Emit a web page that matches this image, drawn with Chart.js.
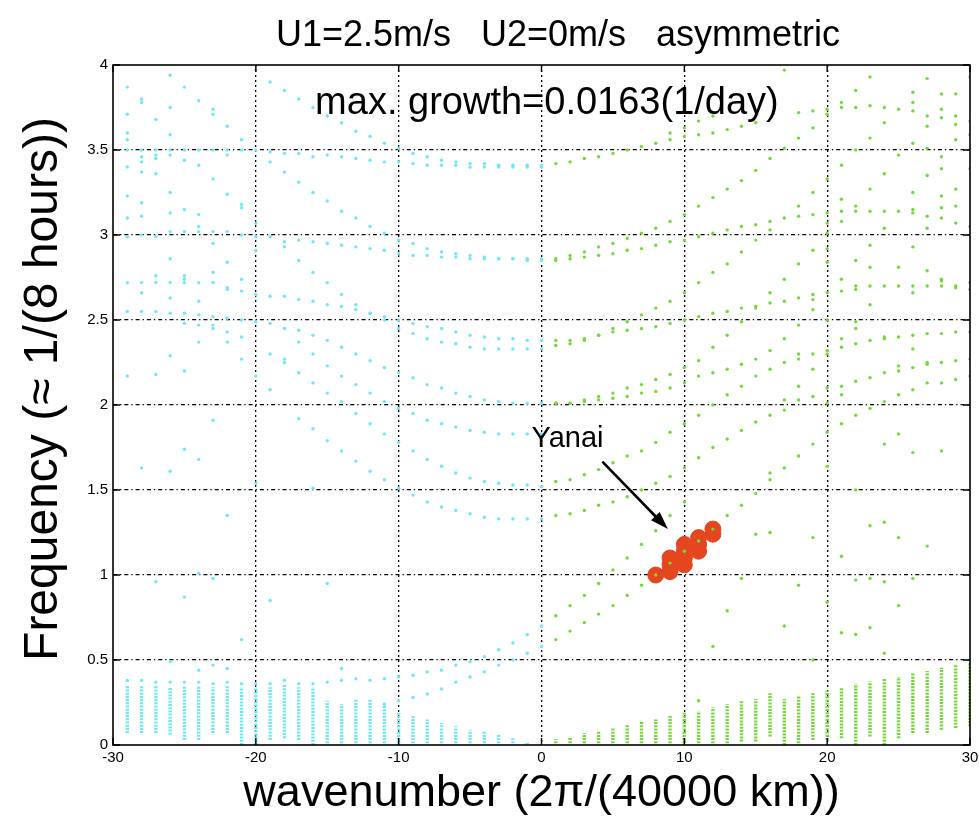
<!DOCTYPE html>
<html>
<head>
<meta charset="utf-8">
<script src="https://cdn.jsdelivr.net/npm/chart.js@4.4.0/dist/chart.umd.min.js"></script>
<style>
  html, body { margin: 0; padding: 0; background: #fff; }
  canvas { display: block; }
</style>
</head>
<body>
<canvas id="chart" width="979" height="818"></canvas>
<script>
const FONT = '"Liberation Sans", Arial, Helvetica, sans-serif';
const CYAN = '#6fe9f3';
const GREEN = '#74d93a';

// far west wavenumbers, dots read column by column
const farWestK = [-29, -28, -27, -26, -25, -24, -23, -22, -21, -20, -19, -18, -17, -16];
const farWestCols = [
  [3.87, 3.71, 3.60, 3.56, 3.50, 3.40, 3.23, 3.10, 2.99, 2.72, 2.55, 2.17, 0.38],
  [3.80, 3.78, 3.50, 3.46, 3.43, 3.37, 3.19, 3.11, 3.00, 2.72, 2.66, 2.55, 1.63, 0.38],
  [3.68, 3.50, 3.47, 3.45, 3.36, 2.99, 2.76, 2.72, 2.55, 2.18, 0.96, 0.37],
  [3.94, 3.75, 3.59, 3.50, 3.47, 3.25, 3.13, 3.02, 2.86, 2.72, 2.63, 2.54, 2.29, 1.61, 0.49, 0.37],
  [3.87, 3.50, 3.44, 3.15, 3.02, 2.76, 2.74, 2.72, 2.54, 2.48, 2.20, 1.74, 0.87, 0.37],
  [3.79, 3.50, 3.41, 3.12, 3.05, 3.02, 2.72, 2.61, 2.53, 2.47, 2.37, 1.68, 1.01, 0.44, 0.37],
  [3.74, 3.71, 3.50, 3.33, 3.02, 2.95, 2.78, 2.72, 2.52, 2.47, 2.45, 1.91, 0.98, 0.47, 0.36],
  [3.64, 3.50, 3.47, 3.24, 3.02, 2.84, 2.69, 2.68, 2.51, 2.43, 2.37, 1.35, 0.45, 0.37],
  [3.56, 3.50, 3.18, 3.16, 3.00, 2.74, 2.67, 2.50, 2.40, 2.27, 0.62, 0.36],
  [3.97, 3.50, 3.07, 2.99, 2.91, 2.65, 2.49, 2.17, 1.54, 0.36],
  [3.90, 3.49, 3.43, 2.99, 2.64, 2.48, 2.30, 2.09, 0.85, 0.36],
  [3.85, 3.48, 3.37, 2.96, 2.93, 2.64, 2.45, 2.27, 2.25, 0.38],
  [3.80, 3.48, 3.31, 2.97, 2.85, 2.62, 2.44, 2.37, 2.19, 1.92, 0.36],
  [3.75, 3.46, 3.25, 2.96, 2.78, 2.61, 2.41, 2.30, 2.13, 1.86, 1.51, 0.36]
];

// near west branches, k = -15 .. 0
const midWestK = [-15, -14, -13, -12, -11, -10, -9, -8, -7, -6, -5, -4, -3, -2, -1, 0];
const wM1 = [3.47, 3.46, 3.45, 3.44, 3.43, 3.43, 3.42, 3.41, 3.41, 3.41, 3.40, 3.40, 3.40, 3.40, 3.40, 3.40];
const wM2 = [3.70, 3.66, 3.61, 3.58, 3.54, 3.51, 3.48, 3.46, 3.44, 3.43, 3.42, 3.42, 3.41, 3.41, 3.41, 3.41];
const wM3 = [3.20, 3.14, 3.10, 3.05, 3.01, 2.97, 2.95, 2.92, 2.90, 2.89, 2.88, 2.87, 2.86, 2.86, 2.85, 2.85];
const wM4 = [2.95, 2.94, 2.93, 2.92, 2.91, 2.89, 2.88, 2.88, 2.87, 2.87, 2.86, 2.86, 2.86, 2.86, 2.86, 2.86];
const wM5 = [2.72, 2.65, 2.59, 2.54, 2.50, 2.45, 2.42, 2.39, 2.37, 2.36, 2.34, 2.33, 2.33, 2.33, 2.33, 2.33];
const wM6 = [2.59, 2.58, 2.56, 2.54, 2.52, 2.50, 2.48, 2.46, 2.45, 2.43, 2.41, 2.40, 2.39, 2.39, 2.38, 2.38];
const wM7 = [2.38, 2.34, 2.30, 2.26, 2.22, 2.19, 2.16, 2.12, 2.10, 2.07, 2.05, 2.03, 2.02, 2.01, 2.01, 2.01];
const wM8 = [2.23, 2.17, 2.12, 2.07, 2.02, 1.98, 1.95, 1.91, 1.89, 1.87, 1.85, 1.84, 1.83, 1.83, 1.83, 1.83];
const wM9 = [2.07, 2.02, 1.95, 1.89, 1.83, 1.78, 1.73, 1.68, 1.64, 1.60, 1.57, 1.55, 1.54, 1.53, 1.53, 1.52];
const wM10 = [1.79, 1.73, 1.67, 1.61, 1.56, 1.51, 1.47, 1.43, 1.40, 1.38, 1.36, 1.34, 1.33, 1.33, 1.33, 1.33];
const wM11 = [0.37, 0.38, 0.39, 0.38, 0.39, 0.40, 0.41, 0.43, 0.44, 0.47, 0.49, 0.52, 0.56, 0.60, 0.65, 0.70];
const wM12 = [null, null, null, null, 0.24, 0.26, 0.28, 0.30, 0.33, 0.37, 0.40, 0.43, 0.47, 0.50, 0.54, 0.58];
const westSparseK = [-15, -14];
const westSparseF = [0.95, 0.45];

// near east branches, k = 1 .. 15
const midEastK = [1, 2, 3, 4, 5, 6, 7, 8, 9, 10, 11, 12, 13, 14, 15];
const eM1 = [3.42, 3.43, 3.45, 3.46, 3.48, 3.50, 3.52, 3.54, 3.56, 3.58, 3.59, 3.60, 3.62, 3.64, 3.66];
const eM1b = [null, null, null, null, null, null, null, null, 3.60, 3.63, 3.67, 3.70, null, null, null];
const eM2 = [2.86, 2.88, 2.90, 2.93, 2.95, 2.98, 3.01, 3.04, 3.08, 3.12, 3.17, 3.22, 3.27, 3.32, 3.38];
const eM3 = [2.85, 2.86, 2.87, 2.88, 2.89, 2.91, 2.92, 2.94, 2.96, 2.97, 2.99, 3.01, 3.03, 3.05, 3.06];
const eM4 = [2.35, 2.36, 2.38, 2.41, 2.45, 2.49, 2.53, 2.57, 2.61, 2.66, 2.72, 2.78, 2.83, 2.90, 2.97];
const eM5 = [2.38, 2.38, 2.39, 2.41, 2.43, 2.44, 2.45, 2.46, 2.48, 2.50, 2.52, 2.54, 2.55, 2.57, 2.58];
const eM6 = [2.01, 2.01, 2.03, 2.05, 2.07, 2.10, 2.12, 2.15, 2.18, 2.22, 2.26, 2.34, 2.41, 2.49, 2.57];
const eM7 = [2.01, 2.01, 2.02, 2.03, 2.04, 2.05, 2.07, 2.08, 2.10, 2.13, 2.17, 2.19, 2.21, 2.24, 2.27];
const eM8 = [1.55, 1.56, 1.59, 1.62, 1.66, 1.70, 1.73, 1.78, 1.84, 1.89, 1.94, 2.00, 2.06, 2.11, 2.17];
const eM10 = [1.35, 1.36, 1.38, 1.41, 1.43, 1.46, 1.50, 1.54, 1.58, 1.63, 1.69, 1.75, 1.80, 1.85, 1.90];
const eM11 = [0.76, 0.82, 0.88, 0.95, 1.03, 1.10, 1.18, 1.26, 1.35, 1.43, null, null, null, null, null];
const eM12 = [0.62, 0.67, 0.72, 0.77, 0.82, 0.88, 0.94, 1.00, 1.07, 1.14, 1.20, 1.27, 1.35, 1.41, 1.48];
const eastSparseK = [11, 12, 13, 14, 15];
const eastSparseF = [0.26, 0.58, 0.79, 0.98, 1.24];

// far east wavenumbers, dots read column by column
const farEastK = [16, 17, 18, 19, 20, 21, 22, 23, 24, 25, 26, 27, 28, 29, 30];
const farEastCols = [
  [3.45, 3.08, 3.03, 2.66, 2.60, 2.32, 2.21, 1.94, 1.60, 1.56, 1.25],
  [3.97, 3.51, 3.10, 2.74, 2.61, 2.39, 2.25, 2.03, 1.97, 1.63, 0.70],
  [3.72, 3.57, 3.17, 3.11, 2.83, 2.63, 2.47, 2.30, 2.27, 2.11, 2.03, 1.70, 0.94],
  [3.73, 3.63, 3.25, 3.12, 2.91, 2.65, 2.62, 2.56, 2.30, 2.21, 2.05, 1.77, 1.22, 0.50],
  [3.74, 3.71, 3.33, 3.13, 3.07, 3.01, 2.92, 2.84, 2.66, 2.50, 2.32, 2.30, 2.10, 2.01, 1.84, 1.64, 0.84],
  [3.78, 3.75, 3.41, 3.21, 3.14, 3.08, 2.74, 2.67, 2.39, 2.34, 2.11, 2.06, 1.89, 1.11, 0.66],
  [3.85, 3.75, 3.50, 3.17, 3.14, 2.85, 2.70, 2.68, 2.49, 2.45, 2.36, 2.14, 1.94, 1.50, 0.97, 0.65],
  [3.93, 3.76, 3.57, 3.27, 3.14, 2.94, 2.81, 2.70, 2.59, 2.38, 2.16, 1.98, 1.29, 0.98, 0.69],
  [3.75, 3.66, 3.36, 3.14, 3.04, 2.70, 2.40, 2.39, 2.19, 2.02, 1.77, 1.31, 0.96, 0.54],
  [3.74, 3.47, 3.14, 2.81, 2.70, 2.40, 2.23, 2.20, 2.06, 1.83, 1.22, 0.82],
  [3.84, 3.78, 3.73, 3.54, 3.25, 3.15, 3.13, 2.93, 2.70, 2.66, 2.41, 2.33, 2.22, 2.09, 1.72, 0.98],
  [3.92, 3.70, 3.64, 3.51, 3.35, 3.11, 3.04, 2.79, 2.70, 2.42, 2.25, 2.24, 2.13, 1.17],
  [3.83, 3.74, 3.69, 3.46, 3.39, 3.23, 3.16, 3.10, 2.74, 2.70, 2.73, 2.42, 2.25, 2.13, 1.73],
  [3.83, 3.70, 3.65, 3.56, 3.27, 3.17, 3.07, 2.70, 2.69, 2.43, 2.26, 2.15],
  [3.93, 3.67, 3.59, 3.39, 3.05, 2.72, 2.68, 2.43, 2.27, 2.17]
];

// dense low-frequency stacks: top and bottom of each column
const westColK = [-29, -28, -27, -26, -25, -24, -23, -22, -21, -20, -19, -18, -17, -16, -15,
  -14, -13, -12, -11, -10, -9, -8, -7, -6, -5, -4, -3, -2, -1];
const westColTop = [0.35, 0.35, 0.35, 0.34, 0.35, 0.35, 0.34, 0.35, 0.34, 0.34, 0.34, 0.36, 0.34, 0.34, 0.26,
  0.24, 0.27, 0.27, 0.24, 0.19, 0.17, 0.15, 0.13, 0.11, 0.09, 0.08, 0.06, 0.04, 0.02];
const westColBot = [0.07, 0.07, 0.07, 0.06, 0.03, 0.03, 0.07, 0.07, 0.00, 0.00, 0.03, 0.04, 0.03, 0.00, 0.01,
  0.01, 0.01, 0.01, 0.01, 0.01, 0.01, 0.01, 0.01, 0.01, 0.01, 0.01, 0.01, 0.01, 0.00];
const eastColK = [1, 2, 3, 4, 5, 6, 7, 8, 9, 10, 11, 12, 13, 14, 15,
  16, 17, 18, 19, 20, 21, 22, 23, 24, 25, 26, 27, 28, 29, 30];
const eastColTop = [0.035, 0.045, 0.07, 0.08, 0.10, 0.12, 0.135, 0.15, 0.17, 0.19, 0.20, 0.22, 0.24, 0.26, 0.27,
  0.305, 0.27, 0.29, 0.305, 0.32, 0.335, 0.36, 0.373, 0.39, 0.40, 0.42, 0.436, 0.455, 0.47, 0.49];
const eastColBot = [0.01, 0.01, 0.01, 0.01, 0.01, 0.01, 0.01, 0.01, 0.01, 0.01, 0.01, 0.01, 0.01, 0.02, 0.02,
  0.05, 0.00, 0.01, 0.03, 0.03, 0.04, 0.00, 0.05, 0.00, 0.04, 0.07, 0.07, 0.09, 0.10, 0.11];

// unstable (Yanai) modes, red circles
const yanaiK = [8, 9, 9, 9, 10, 10, 10, 10, 11, 11, 11, 12, 12];
const yanaiF = [1.00, 1.02, 1.06, 1.10, 1.06, 1.10, 1.14, 1.18, 1.14, 1.18, 1.22, 1.24, 1.27];

const xTicks = [-30, -20, -10, 0, 10, 20, 30];
const yTicks = [0, 0.5, 1, 1.5, 2, 2.5, 3, 3.5, 4];

const titleText = 'U1=2.5m/s   U2=0m/s   asymmetric';
const yLabel = 'Frequency (≈ 1/(8 hours))';
const growthText = 'max. growth=0.0163(1/day)';

function pts(ks, vals) {
  const out = [];
  vals.forEach((v, i) => { if (v !== null) out.push({ x: ks[i], y: v }); });
  return out;
}
function colPts(ks, cols) {
  const out = [];
  cols.forEach((c, i) => c.forEach(v => out.push({ x: ks[i], y: v })));
  return out;
}
function strips(ks, tops, bots) {
  const out = [];
  ks.forEach((k, i) => {
    out.push({ x: k, y: bots[i] }, { x: k, y: tops[i] }, { x: k, y: null });
  });
  return out;
}

const cyanDots = [
  ...colPts(farWestK, farWestCols),
  ...[wM1, wM2, wM3, wM4, wM5, wM6, wM7, wM8, wM9, wM10, wM11, wM12].flatMap(a => pts(midWestK, a)),
  ...pts(westSparseK, westSparseF)
];
const greenDots = [
  ...[eM1, eM1b, eM2, eM3, eM4, eM5, eM6, eM7, eM8, eM10, eM11, eM12].flatMap(a => pts(midEastK, a)),
  ...pts(eastSparseK, eastSparseF),
  ...colPts(farEastK, farEastCols)
];

const dotStyle = { pointRadius: 1.7, pointBorderWidth: 0, showLine: false };
const stripStyle = { pointRadius: 0, showLine: true, spanGaps: false, borderWidth: 3.4, borderDash: [2, 1.2] };

// title, y label, frame, inner ticks, annotations
const decor = {
  id: 'decor',
  afterDatasetsDraw(chart) {
    const { ctx, chartArea: a, scales: { x, y } } = chart;
    ctx.save();
    ctx.strokeStyle = '#000';
    ctx.lineWidth = 1.6;
    ctx.strokeRect(a.left, a.top, a.right - a.left, a.bottom - a.top);
    ctx.lineWidth = 1.4;
    ctx.beginPath();
    xTicks.forEach(v => {
      const px = x.getPixelForValue(v);
      ctx.moveTo(px, a.bottom); ctx.lineTo(px, a.bottom - 7);
      ctx.moveTo(px, a.top); ctx.lineTo(px, a.top + 7);
    });
    yTicks.forEach(v => {
      const py = y.getPixelForValue(v);
      ctx.moveTo(a.left, py); ctx.lineTo(a.left + 7, py);
      ctx.moveTo(a.right, py); ctx.lineTo(a.right - 7, py);
    });
    ctx.stroke();

    ctx.fillStyle = '#000';
    ctx.textBaseline = 'alphabetic';
    ctx.textAlign = 'left';
    ctx.font = '38px ' + FONT;
    ctx.fillText(growthText, x.getPixelForValue(-15.85), y.getPixelForValue(3.71));
    ctx.font = '29px ' + FONT;
    ctx.fillText('Yanai', x.getPixelForValue(-0.7), y.getPixelForValue(1.755));

    // title
    ctx.textAlign = 'center';
    ctx.textBaseline = 'middle';
    ctx.font = '36px ' + FONT;
    ctx.fillText(titleText, 558, 36);

    // y axis label
    ctx.save();
    ctx.translate(44, 389);
    ctx.rotate(-Math.PI / 2);
    ctx.font = '48px ' + FONT;
    ctx.fillText(yLabel, 0, 0);
    ctx.restore();

    // arrow to the unstable modes
    const x0 = x.getPixelForValue(4.26), y0 = y.getPixelForValue(1.667);
    const x1 = x.getPixelForValue(8.85), y1 = y.getPixelForValue(1.27);
    const ang = Math.atan2(y1 - y0, x1 - x0);
    ctx.lineWidth = 2.6;
    ctx.beginPath();
    ctx.moveTo(x0, y0);
    ctx.lineTo(x1 - 12 * Math.cos(ang), y1 - 12 * Math.sin(ang));
    ctx.stroke();
    ctx.beginPath();
    ctx.moveTo(x1, y1);
    ctx.lineTo(x1 - 18 * Math.cos(ang) + 6 * Math.sin(ang), y1 - 18 * Math.sin(ang) - 6 * Math.cos(ang));
    ctx.lineTo(x1 - 18 * Math.cos(ang) - 6 * Math.sin(ang), y1 - 18 * Math.sin(ang) + 6 * Math.cos(ang));
    ctx.closePath();
    ctx.fill();
    ctx.restore();
  }
};

new Chart(document.getElementById('chart'), {
  type: 'scatter',
  data: {
    datasets: [
      { data: cyanDots, backgroundColor: CYAN, ...dotStyle },
      { data: greenDots, backgroundColor: GREEN, ...dotStyle },
      { data: pts(yanaiK, yanaiF), backgroundColor: '#e5461f', borderColor: '#e5461f',
        pointRadius: 8, pointBorderWidth: 1, showLine: false },
      { data: strips(westColK, westColTop, westColBot), borderColor: CYAN, ...stripStyle },
      { data: strips(eastColK, eastColTop, eastColBot), borderColor: GREEN, ...stripStyle }
    ]
  },
  options: {
    responsive: false,
    animation: false,
    events: [],
    layout: { padding: { left: 0, right: 7, top: 65, bottom: 0 } },
    plugins: {
      legend: { display: false },
      tooltip: { enabled: false },
      title: { display: false }
    },
    scales: {
      x: {
        type: 'linear',
        min: -30, max: 30,
        afterBuildTicks: s => { s.ticks = xTicks.map(v => ({ value: v })); },
        afterFit: s => { s.height = 73; s.paddingLeft = 0; s.paddingRight = 0; },
        ticks: { color: '#000', font: { family: FONT, size: 15 }, padding: 4, maxRotation: 0,
          callback: v => String(v) },
        grid: {
          drawTicks: false,
          color: c => (c.tick && (c.tick.value === -30 || c.tick.value === 30)) ? 'rgba(0,0,0,0)' : '#000',
          lineWidth: 1.3
        },
        border: { display: false, dash: [2, 3] },
        title: {
          display: true,
          text: 'wavenumber (2π/(40000 km))',
          color: '#000',
          font: { family: FONT, size: 45, lineHeight: 1 },
          padding: { top: 0, bottom: 2 }
        }
      },
      y: {
        type: 'linear',
        min: 0, max: 4,
        afterBuildTicks: s => { s.ticks = yTicks.map(v => ({ value: v })); },
        afterFit: s => { s.width = 113; },
        ticks: { color: '#000', font: { family: FONT, size: 15 }, padding: 5,
          callback: v => String(v) },
        grid: {
          drawTicks: false,
          color: c => (c.tick && (c.tick.value === 0 || c.tick.value === 4)) ? 'rgba(0,0,0,0)' : '#000',
          lineWidth: 1.3
        },
        border: { display: false, dash: [4, 3, 1.3, 3] }
      }
    }
  },
  plugins: [decor]
});
</script>
</body>
</html>
